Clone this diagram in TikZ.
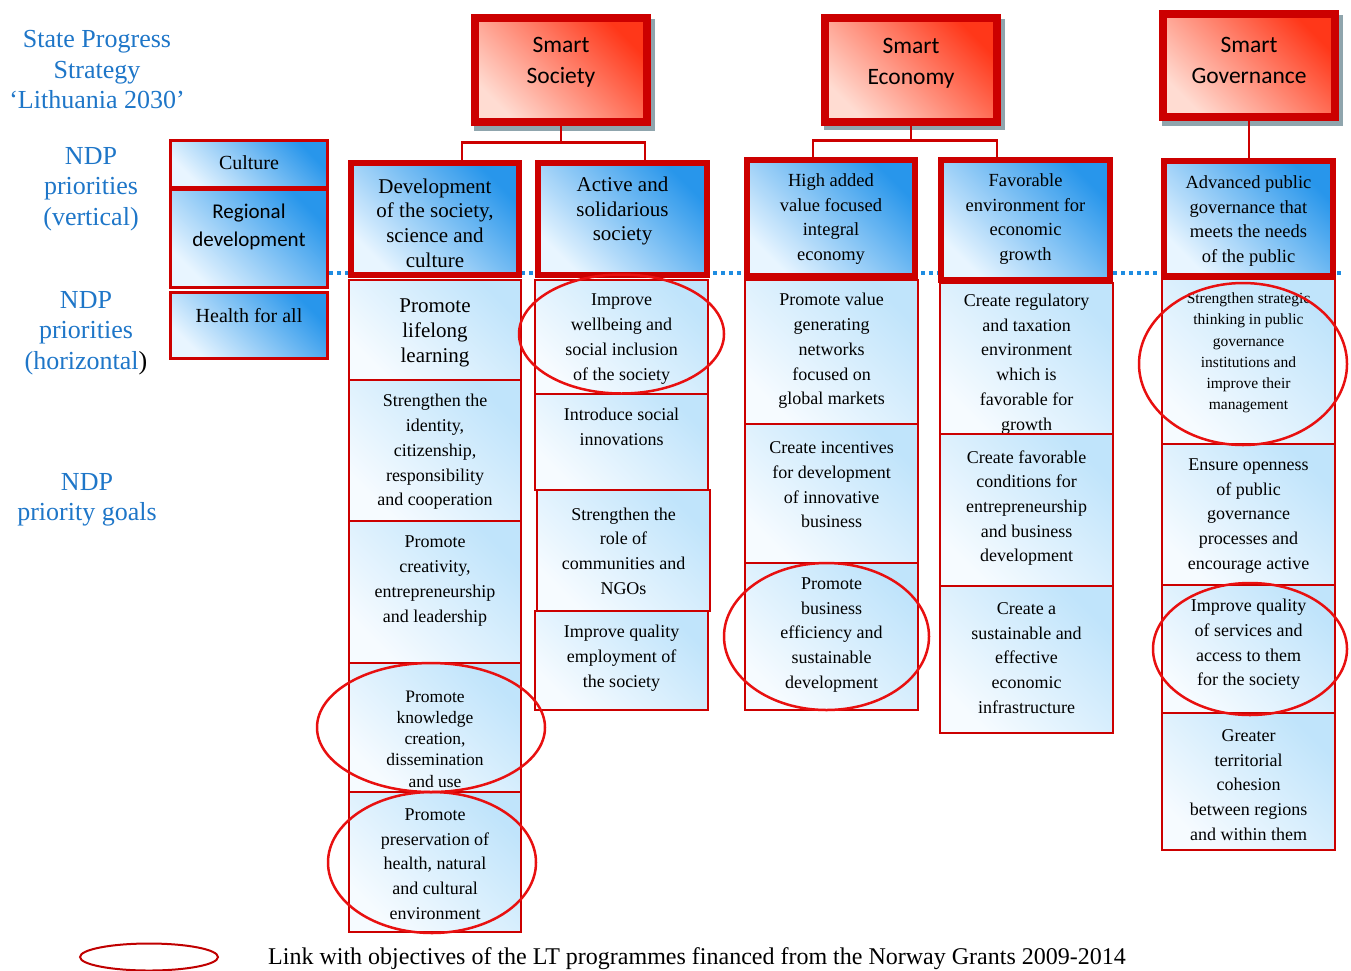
\documentclass[tikz,border=0pt]{standalone}
\usepackage{fontspec}
\setmainfont{Liberation Serif}
\newfontfamily\calib{Carlito}
\usetikzlibrary{shapes.geometric}
\definecolor{boxred}{RGB}{204,0,0}
\definecolor{ellred}{RGB}{232,16,16}
\definecolor{legred}{RGB}{192,0,0}
\definecolor{labblue}{RGB}{30,118,200}
\definecolor{dotblue}{RGB}{30,140,225}
\definecolor{goallight}{RGB}{246,251,255}
\definecolor{goaldark}{RGB}{192,228,251}
\definecolor{prilight}{RGB}{232,245,255}
\definecolor{pridark}{RGB}{40,150,235}
\definecolor{smlight}{RGB}{255,220,210}
\definecolor{smdark}{RGB}{255,55,25}
\definecolor{shgray}{RGB}{143,165,173}
\newcommand\fs[2]{\fontsize{#1}{#2}\selectfont}
\newcommand\bx[9][]{%
  \node[#2, minimum width={#6-#4}, minimum height={#7-#5}] (#3) at ({(#4+#6)/2},{(#5+#7)/2}) {};
  \node[btext,#1] (#3t) at ({(#4+#6)/2},#8) {#9};}
\begin{document}
\begin{tikzpicture}[x=1pt,y=-1pt,
  goalbox/.style={draw=boxred, line width=2.5pt, bottom color=goallight, top color=goaldark, shading angle=-45, inner sep=0pt},
  pribox/.style={draw=boxred, line width=5.5pt, bottom color=prilight, top color=pridark, shading angle=-45, inner sep=0pt},
  leftbox/.style={draw=boxred, line width=3pt, bottom color=prilight, top color=pridark, shading angle=-45, inner sep=0pt},
  smartbox/.style={draw=boxred, line width=8.5pt, bottom color=smlight, top color=smdark, shading angle=-45, inner sep=0pt},
  btext/.style={align=center, inner sep=0pt, font=\fs{18}{24.7}},
  ptext/.style={font=\fs{21}{24.7}},
  p2text/.style={font=\fs{18.5}{24.7}},
  stext/.style={font=\calib\fs{23.5}{31}},
  lab/.style={align=center, inner sep=0pt, text=labblue, font=\fs{26}{30.5}},
  conn/.style={draw=boxred, line width=2.5pt},
  ring/.style={draw=ellred, line width=2.5pt, ellipse, inner sep=0pt},
  dotline/.style={draw=dotblue, line width=3.5pt, dash pattern=on 4pt off 4pt},
]
\useasboundingbox (0,0) rectangle (1351,970);

% dotted horizontal line
\coordinate (dl) at (329,273);
\coordinate (dr) at (1343,273);
\draw[dotline] (dl) -- (dr);

% left labels
\node[lab] (sps) at (97,70) {State Progress\\Strategy\\‘Lithuania 2030’};
\node[lab] (ndpv) at (91,189) {NDP\\priorities\\(vertical)};
\node[lab] (ndph) at (86,333) {NDP\\priorities\\(horizontal\textcolor{black}{)}};
\node[lab] (ndpg) at (87,500) {NDP\\priority goals};

% smart boxes
\fill[shgray] (474,19) rectangle (655,131);
\bx[stext]{smartbox}{ss}{475}{18}{647}{122}{62.5}{Smart\\Society}
\fill[shgray] (824,19) rectangle (1005,130);
\bx[stext]{smartbox}{se}{825}{18}{997}{122}{63.5}{Smart\\Economy}
\fill[shgray] (1162,15) rectangle (1343,126);
\bx[stext]{smartbox}{sg}{1163}{14}{1335}{117}{60}{Smart\\Governance}

% vertical priorities
\bx[font=\fs{20}{25}]{leftbox}{cul}{170.5}{140.5}{327.5}{187}{163}{Culture}
\bx[font=\calib\fs{21}{28}]{leftbox}{reg}{170.5}{189}{327.5}{287}{227}{Regional\\development}
\bx[font=\fs{20}{25}]{leftbox}{hea}{170.5}{292.5}{327.5}{358.5}{316}{Health for all}

% goals
\bx[font=\fs{21}{25}]{goalbox}{g1a}{349}{280}{521}{380}{333}{Promote\\lifelong\\learning}
\bx{goalbox}{g1b}{349}{380}{521}{521}{452}{Strengthen the\\identity,\\citizenship,\\responsibility\\and cooperation}
\bx{goalbox}{g1c}{349}{521}{521}{663}{581}{Promote\\creativity,\\entrepreneurship\\and leadership}
\bx[font=\fs{17.5}{21.2}]{goalbox}{g1d}{349}{663}{521}{792}{739}{Promote\\knowledge\\creation,\\dissemination\\and use}
\bx{goalbox}{g1e}{349}{792}{521}{932}{864}{Promote\\preservation of\\health, natural\\and cultural\\environment}
\bx{goalbox}{g2a}{535}{280}{708}{394}{339}{Improve\\wellbeing and\\social inclusion\\of the society}
\bx{goalbox}{g2b}{535}{394}{708}{490}{426.5}{Introduce social\\innovations}
\bx{goalbox}{g2c}{537}{490}{710}{611}{551}{Strengthen the\\role of\\communities and\\NGOs}
\bx{goalbox}{g2d}{535}{611}{708}{710}{658}{Improve quality\\employment of\\the society}
\bx{goalbox}{g3a}{745}{280}{918}{424}{351}{Promote value\\generating\\networks\\focused on\\global markets}
\bx{goalbox}{g3b}{745}{424}{918}{563}{485}{Create incentives\\for development\\of innovative\\business}
\bx{goalbox}{g3c}{745}{563}{918}{710}{635}{Promote\\business\\efficiency and\\sustainable\\development}
\bx{goalbox}{g4a}{940}{283}{1113}{434}{364}{Create regulatory\\and taxation\\environment\\which is\\favorable for\\growth}
\bx{goalbox}{g4b}{940}{434}{1113}{586}{508}{Create favorable\\conditions for\\entrepreneurship\\and business\\development}
\bx{goalbox}{g4c}{940}{586}{1113}{733}{658}{Create a\\sustainable and\\effective\\economic\\infrastructure}
\bx[font=\fs{15.5}{21.2}]{goalbox}{g5a}{1162}{279}{1335}{444}{353}{Strengthen strategic\\thinking in public\\governance\\institutions and\\improve their\\management}
\bx{goalbox}{g5b}{1162}{444}{1335}{585}{516}{Ensure openness\\of public\\governance\\processes and\\encourage active}
\bx{goalbox}{g5c}{1162}{585}{1335}{713}{644.5}{Improve quality\\of services and\\access to them\\for the society}
\bx{goalbox}{g5d}{1162}{713}{1335}{850}{785}{Greater\\territorial\\cohesion\\between regions\\and within them}

% horizontal priorities
\bx[ptext]{pribox}{p1}{351}{163}{519}{275}{223}{Development\\of the society,\\science and\\culture}
\bx[ptext]{pribox}{p2}{538}{163}{707}{275}{211}{Active and\\solidarious\\society}
\bx[p2text]{pribox}{p3}{747}{160}{915}{276}{219}{High added\\value focused\\integral\\economy}
\bx[p2text]{pribox}{p4}{941}{160}{1110}{280}{219}{Favorable\\environment for\\economic\\growth}
\bx[p2text]{pribox}{p5}{1164}{161}{1333}{276}{221}{Advanced public\\governance that\\meets the needs\\of the public}

% connectors
\draw[conn] ([xshift=27pt]p1.north) -- ++(0,-18) coordinate (sj) -| ([xshift=22.5pt]p2.north);
\draw[conn] (ss.south) -- (ss.south |- sj);
\draw[conn] ([xshift=-18pt]p3.north) -- ++(0,-17) coordinate (ej) -| ([xshift=-28.5pt]p4.north);
\draw[conn] (se.south) -- (se.south |- ej);
\draw[conn] (sg.south) -- (sg.south |- p5.north);

% rings
\node[ring, minimum width=205, minimum height=119] (e1) at (621.5,334) {};
\node[ring, minimum width=228, minimum height=129] (e2) at (431,727.5) {};
\node[ring, minimum width=208, minimum height=141] (e3) at (432,862.5) {};
\node[ring, minimum width=205, minimum height=147] (e4) at (826.5,636.5) {};
\node[ring, minimum width=208, minimum height=162] (e5) at (1243,364) {};
\node[ring, minimum width=194, minimum height=132] (e6) at (1250,649) {};

% legend
\node[ring, draw=legred, line width=2pt, minimum width=138, minimum height=27] (leg) at (149,957) {};
\node[anchor=west, inner sep=0pt, font=\fs{24}{28}] (legt) at (268,959) {Link with objectives of the LT programmes financed from the Norway Grants 2009-2014};
\end{tikzpicture}
\end{document}
